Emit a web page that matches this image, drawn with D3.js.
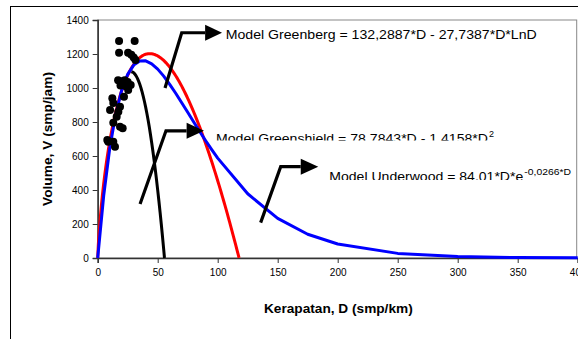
<!DOCTYPE html>
<html>
<head>
<meta charset="utf-8">
<script src="https://cdn.jsdelivr.net/npm/d3@7/dist/d3.min.js"></script>
<style>
  html, body { margin: 0; padding: 0; background: #fff; }
  svg { display: block; font-family: "Liberation Sans", Arial, sans-serif; }
</style>
</head>
<body>
<svg id="chart" width="578" height="339"></svg>
<script>
// Observed flow–density points (D in smp/km, V in smp/jam)
const obsD = [17.8, 30.8, 17.8, 25.3, 28.0, 30.0, 31.5, 17.0, 20.5, 22.5, 25.0, 19.0, 23.5, 25.4, 27.5,
              21.9, 12.2, 13.0, 18.6, 17.2, 10.3, 15.8, 13.0, 18.6, 20.8, 8.0, 13.0, 14.4, 8.8];
const obsV = [1276, 1276, 1208, 1208, 1195, 1180, 1165, 1045, 1040, 1045, 1035, 1015, 1010, 988, 1018,
              949, 939, 912, 890, 861, 871, 831, 796, 772, 763, 694, 684, 655, 684];

// Model coefficients as printed in the annotations
const greenshield = [78.7843, 1.4158];   // V = a*D - b*D^2
const greenberg   = [132.2887, 27.7387]; // V = a*D - b*D*ln D
const underwood   = [84.01, 0.0266];     // V = a*D*e^(-b*D)

// Densities at which each model curve is evaluated
const dGreenshield = d3.range(28, 55.5, 1).concat([55.65]);
const dGreenberg   = [0, 0.5].concat(d3.range(1, 117.5, 1), [117.8]);
const dUnderwood   = [0, 5, 10, 15, 20, 25, 30, 35, 40, 45, 50, 55, 60, 65, 70, 75, 80, 85, 90, 95, 100,
                      125, 150, 175, 200, 250, 300, 350, 400];

const xTicks = [0, 50, 100, 150, 200, 250, 300, 350, 400];
const yTicks = [0, 200, 400, 600, 800, 1000, 1200, 1400];

const svg = d3.select("#chart");
const x = d3.scaleLinear().domain([0, 400]).range([97.7, 577.7]);
const y = d3.scaleLinear().domain([0, 1400]).range([258, 20]);

// outer chart frame
svg.append("rect").attr("x", 10.5).attr("y", 6.5).attr("width", 600).attr("height", 400)
  .attr("fill", "#fff").attr("stroke", "#000").attr("stroke-width", 1);

// plot area frame
svg.append("rect").attr("x", x(0)).attr("y", y(1400)).attr("width", x(400) - x(0) - 1)
  .attr("height", y(0) - y(1400)).attr("fill", "#fff").attr("stroke", "#888").attr("stroke-width", 1);

// axes
const xAxis = svg.append("g").attr("transform", `translate(0,${y(0)})`)
  .call(d3.axisBottom(x).tickValues(xTicks).tickSize(5).tickPadding(6).tickFormat(d3.format("d")));
const yAxis = svg.append("g").attr("transform", `translate(${x(0)},0)`)
  .call(d3.axisLeft(y).tickValues(yTicks).tickSize(5).tickPadding(4).tickFormat(d3.format("d")));
[xAxis, yAxis].forEach(g => {
  g.select(".domain").attr("stroke", "#333").attr("stroke-width", 1.5);
  g.selectAll(".tick line").attr("stroke", "#333");
  g.selectAll(".tick text").attr("font-size", 10).attr("fill", "#000")
    .attr("font-family", "'Liberation Sans', Arial, sans-serif");
});

// axis titles
svg.append("text").attr("x", 264).attr("y", 312.5)
  .attr("font-size", 12).attr("font-weight", "bold")
  .attr("textLength", 148.7).attr("lengthAdjust", "spacingAndGlyphs")
  .text("Kerapatan, D (smp/km)");
svg.append("text").attr("transform", "translate(51.5,206) rotate(-90)")
  .attr("font-size", 12).attr("font-weight", "bold")
  .attr("textLength", 134).attr("lengthAdjust", "spacingAndGlyphs")
  .text("Volume, V (smp/jam)");

const line = d3.line().x(d => x(d[0])).y(d => y(d[1]));
const curves = svg.append("g").attr("fill", "none").attr("stroke-width", 3).attr("stroke-linejoin", "round");

// Greenshield model
curves.append("path")
  .attr("d", line(dGreenshield.map(d => [d, Math.max(0, greenshield[0] * d - greenshield[1] * d * d)])))
  .attr("stroke", "#000");
// Greenberg model
curves.append("path")
  .attr("d", line(dGreenberg.map(d => [d, d === 0 ? 0 : Math.max(0, greenberg[0] * d - greenberg[1] * d * Math.log(d))])))
  .attr("stroke", "#ff0000");
// Underwood model
curves.append("path")
  .attr("d", line(dUnderwood.map(d => [d, underwood[0] * d * Math.exp(-underwood[1] * d)])))
  .attr("stroke", "#0000ff");

// observations
svg.append("g").selectAll("circle").data(obsD.map((d, i) => [d, obsV[i]])).join("circle")
  .attr("cx", d => x(d[0])).attr("cy", d => y(d[1])).attr("r", 4).attr("fill", "#000");

// annotation arrows: [start, elbow, shaft end, tip] in data units
const arrows = [
  [[56.1, 1000], [70.0, 1325], [89.5, 1325], [103.6, 1325]],
  [[35.3, 318], [56.9, 748], [74.1, 748], [88.6, 748]],
  [[135.8, 208], [152.5, 537], [169.2, 537], [183.8, 537]]
];
arrows.forEach(a => {
  svg.append("path").attr("d", line(a.slice(0, 3))).attr("fill", "none")
    .attr("stroke", "#000").attr("stroke-width", 3.2).attr("stroke-linejoin", "miter");
  const bx = x(a[2][0]), by = y(a[2][1]), tx = x(a[3][0]);
  svg.append("path").attr("d", `M${bx},${by - 8}L${tx},${by}L${bx},${by + 8}Z`).attr("fill", "#000");
});

// annotation labels
const defs = svg.append("defs");
defs.append("clipPath").attr("id", "clipGs").append("rect")
  .attr("x", 200).attr("y", 110).attr("width", 360).attr("height", 30.5);
defs.append("clipPath").attr("id", "clipUw").append("rect")
  .attr("x", 320).attr("y", 150).attr("width", 258).attr("height", 30);

svg.append("text").attr("x", x(106.7)).attr("y", 39.3).attr("font-size", 13)
  .attr("textLength", 311).attr("lengthAdjust", "spacingAndGlyphs")
  .text("Model Greenberg = 132,2887*D - 27,7387*D*LnD");

const gs = svg.append("text").attr("x", x(98.6)).attr("y", 142.6).attr("font-size", 13)
  .attr("clip-path", "url(#clipGs)");
gs.append("tspan").attr("textLength", 272).attr("lengthAdjust", "spacingAndGlyphs")
  .text("Model Greenshield = 78,7843*D - 1,4158*D");
gs.append("tspan").attr("x", 489).attr("font-size", 9).attr("dy", -6).text("2");

const uw = svg.append("text").attr("x", x(193)).attr("y", 181.4).attr("font-size", 13)
  .attr("clip-path", "url(#clipUw)");
uw.append("tspan").attr("textLength", 194).attr("lengthAdjust", "spacingAndGlyphs")
  .text("Model Underwood = 84,01*D*e");
uw.append("tspan").attr("x", 524.3).attr("font-size", 8.5).attr("dy", -6.5)
  .attr("textLength", 46.7).attr("lengthAdjust", "spacingAndGlyphs").text("-0,0266*D");
</script>
</body>
</html>
